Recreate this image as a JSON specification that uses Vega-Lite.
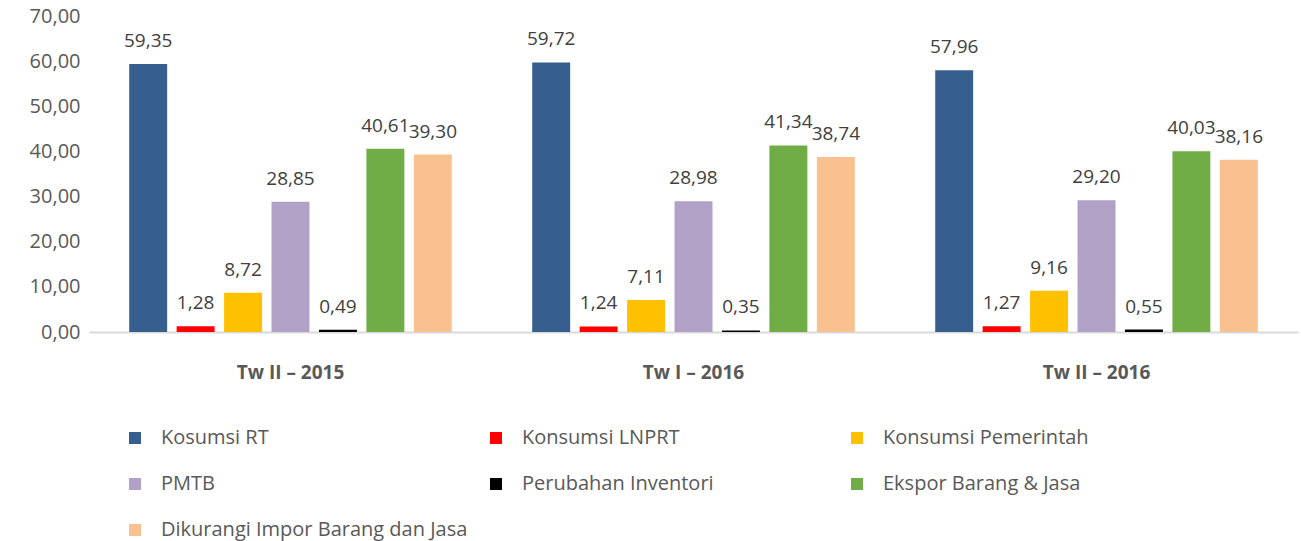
{
  "$schema": "https://vega.github.io/schema/vega-lite/v6.json",
  "width": 1209,
  "height": 316,
  "autosize": {"type": "none"},
  "padding": {"left": 89, "top": 16, "right": 3, "bottom": 209},
  "background": "white",
  "config": {
    "locale": {"number": {"decimal": ",", "thousands": ".", "grouping": [3], "currency": ["Rp", ""]}},
    "font": "Open Sans",
    "view": {"stroke": null}
  },
  "data": {
    "values": [
      {"periode": "Tw II – 2015", "komponen": "Kosumsi RT", "nilai": 59.35},
      {"periode": "Tw II – 2015", "komponen": "Konsumsi LNPRT", "nilai": 1.28},
      {"periode": "Tw II – 2015", "komponen": "Konsumsi Pemerintah", "nilai": 8.72},
      {"periode": "Tw II – 2015", "komponen": "PMTB", "nilai": 28.85},
      {"periode": "Tw II – 2015", "komponen": "Perubahan Inventori", "nilai": 0.49},
      {"periode": "Tw II – 2015", "komponen": "Ekspor Barang & Jasa", "nilai": 40.61},
      {"periode": "Tw II – 2015", "komponen": "Dikurangi Impor Barang dan Jasa", "nilai": 39.30},
      {"periode": "Tw I – 2016", "komponen": "Kosumsi RT", "nilai": 59.72},
      {"periode": "Tw I – 2016", "komponen": "Konsumsi LNPRT", "nilai": 1.24},
      {"periode": "Tw I – 2016", "komponen": "Konsumsi Pemerintah", "nilai": 7.11},
      {"periode": "Tw I – 2016", "komponen": "PMTB", "nilai": 28.98},
      {"periode": "Tw I – 2016", "komponen": "Perubahan Inventori", "nilai": 0.35},
      {"periode": "Tw I – 2016", "komponen": "Ekspor Barang & Jasa", "nilai": 41.34},
      {"periode": "Tw I – 2016", "komponen": "Dikurangi Impor Barang dan Jasa", "nilai": 38.74},
      {"periode": "Tw II – 2016", "komponen": "Kosumsi RT", "nilai": 57.96},
      {"periode": "Tw II – 2016", "komponen": "Konsumsi LNPRT", "nilai": 1.27},
      {"periode": "Tw II – 2016", "komponen": "Konsumsi Pemerintah", "nilai": 9.16},
      {"periode": "Tw II – 2016", "komponen": "PMTB", "nilai": 29.20},
      {"periode": "Tw II – 2016", "komponen": "Perubahan Inventori", "nilai": 0.55},
      {"periode": "Tw II – 2016", "komponen": "Ekspor Barang & Jasa", "nilai": 40.03},
      {"periode": "Tw II – 2016", "komponen": "Dikurangi Impor Barang dan Jasa", "nilai": 38.16}
    ]
  },
  "encoding": {
    "x": {
      "field": "periode", "type": "nominal",
      "sort": ["Tw II – 2015", "Tw I – 2016", "Tw II – 2016"],
      "scale": {"paddingInner": 0.176, "paddingOuter": 0.088},
      "axis": {
        "title": null, "labelAngle": 0, "ticks": false,
        "domainColor": "#d9d9d9", "domainWidth": 2,
        "labelFont": "Open Sans", "labelFontSize": 19, "labelFontWeight": "bold",
        "labelColor": "#595959", "labelPadding": 31
      }
    },
    "xOffset": {
      "field": "komponen", "type": "nominal",
      "sort": ["Kosumsi RT", "Konsumsi LNPRT", "Konsumsi Pemerintah", "PMTB", "Perubahan Inventori", "Ekspor Barang & Jasa", "Dikurangi Impor Barang dan Jasa"],
      "scale": {"paddingInner": 0.2, "paddingOuter": 0.1}
    },
    "y": {
      "field": "nilai", "type": "quantitative",
      "scale": {"domain": [0, 70]},
      "axis": {
        "title": null, "values": [0, 10, 20, 30, 40, 50, 60, 70], "format": ".2f",
        "grid": false, "domain": false, "ticks": false,
        "labelFont": "Open Sans", "labelFontSize": 20, "labelColor": "#595959", "labelPadding": 9
      }
    }
  },
  "layer": [
    {
      "mark": {"type": "bar"},
      "encoding": {
        "color": {
          "field": "komponen", "type": "nominal",
          "sort": ["Kosumsi RT", "Konsumsi LNPRT", "Konsumsi Pemerintah", "PMTB", "Perubahan Inventori", "Ekspor Barang & Jasa", "Dikurangi Impor Barang dan Jasa"],
          "scale": {
            "domain": ["Kosumsi RT", "Konsumsi LNPRT", "Konsumsi Pemerintah", "PMTB", "Perubahan Inventori", "Ekspor Barang & Jasa", "Dikurangi Impor Barang dan Jasa"],
            "range": ["#365f8f", "#ff0000", "#ffc000", "#b2a1c7", "#000000", "#70ad47", "#f9c090"]
          },
          "legend": {
            "title": null, "orient": "none", "legendX": 36, "legendY": 412,
            "columns": 3, "gridAlign": "all", "direction": "horizontal",
            "symbolType": "square", "symbolSize": 144, "symbolStrokeWidth": 0,
            "labelFont": "Open Sans", "labelFontSize": 20, "labelColor": "#595959",
            "labelOffset": 16, "labelLimit": 400,
            "columnPadding": 18, "rowPadding": 26
          }
        }
      }
    },
    {
      "mark": {"type": "text", "dy": -13, "baseline": "bottom", "font": "Open Sans", "fontSize": 19, "color": "#404040"},
      "encoding": {
        "text": {"field": "nilai", "type": "quantitative", "format": ".2f"}
      }
    }
  ]
}
